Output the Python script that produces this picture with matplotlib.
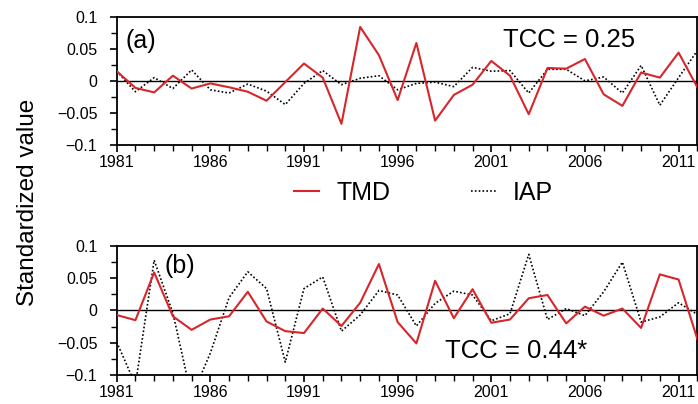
'''TMD vs IAP standardized anomalies, two panels'''

import matplotlib.pyplot as plt
from matplotlib.ticker import MultipleLocator

plt.rcParams['font.family'] = ['Liberation Sans', 'DejaVu Sans']

# Data

years = list(range(1981, 2013))

tmd_a = [0.015, -0.011, -0.018, 0.008, -0.012, -0.004, -0.010, -0.017, -0.031, -0.002,
         0.027, 0.005, -0.067, 0.084, 0.040, -0.030, 0.059, -0.062, -0.022, -0.006,
         0.031, 0.008, -0.052, 0.020, 0.019, 0.034, -0.021, -0.039, 0.013, 0.005,
         0.044, -0.010]
iap_a = [0.015, -0.017, 0.005, -0.012, 0.017, -0.014, -0.019, -0.005, -0.016, -0.037,
         -0.004, 0.016, -0.006, 0.004, 0.008, -0.014, -0.004, -0.002, -0.009, 0.021,
         0.015, 0.016, -0.019, 0.018, 0.018, 0.000, 0.006, -0.019, 0.024, -0.038,
         0.005, 0.047]

tmd_b = [-0.007, -0.015, 0.059, -0.009, -0.030, -0.014, -0.009, 0.029, -0.017, -0.032,
         -0.035, 0.003, -0.024, 0.012, 0.072, -0.018, -0.051, 0.046, -0.012, 0.033,
         -0.019, -0.014, 0.019, 0.024, -0.020, 0.006, -0.008, 0.003, -0.027, 0.056,
         0.048, -0.044]
iap_b = [-0.049, -0.115, 0.078, -0.004, -0.134, -0.066, 0.020, 0.060, 0.034, -0.080,
         0.034, 0.052, -0.032, -0.007, 0.031, 0.024, -0.024, 0.011, 0.030, 0.024,
         -0.016, -0.005, 0.087, -0.014, 0.003, -0.008, 0.029, 0.075, -0.018, -0.010,
         0.012, -0.006]

tcc_a = 'TCC = 0.25'
tcc_b = 'TCC = 0.44*'
red = '#d7262b'

# Figur

fig = plt.figure(figsize=(6.98, 4.04), dpi=100)
ax_a = fig.add_axes([0.1672, 0.6411, 0.8318, 0.3176])
ax_b = fig.add_axes([0.1672, 0.0718, 0.8318, 0.3193])

for ax, tmd, iap in [(ax_a, tmd_a, iap_a), (ax_b, tmd_b, iap_b)]:
  ax.axhline(0, color='black', lw=1.0, zorder=1)
  ax.plot(years, iap, color='black', ls=(0, (1, 1.3)), lw=1.2, label='IAP', zorder=2)
  ax.plot(years, tmd, color=red, lw=1.5, label='TMD', zorder=3)
  ax.set_xlim(1981, 2012)
  ax.set_ylim(-0.1, 0.1)
  ax.set_xticks(range(1981, 2012, 5))
  ax.xaxis.set_minor_locator(MultipleLocator(1))
  ax.set_yticks([-0.1, -0.05, 0, 0.05, 0.1])
  ax.set_yticklabels(['\u22120.1', '\u22120.05', '0', '0.05', '0.1'])
  ax.yaxis.set_minor_locator(MultipleLocator(0.025))
  ax.tick_params(which='major', direction='out', length=5, width=1.2, labelsize=11.5, pad=2)
  ax.tick_params(axis='y', which='major', pad=9)
  ax.tick_params(which='minor', direction='out', length=4, width=1.0)
  for s in ax.spines.values():
    s.set_linewidth(1.3)

ax_a.text(0.016, 0.81, '(a)', transform=ax_a.transAxes, fontsize=18, va='center')
ax_a.text(0.665, 0.82, tcc_a, transform=ax_a.transAxes, fontsize=18.5, va='center')
ax_b.text(0.083, 0.845, '(b)', transform=ax_b.transAxes, fontsize=18, va='center')
ax_b.text(0.565, 0.186, tcc_b, transform=ax_b.transAxes, fontsize=18.5, va='center')

# Legende

h_iap, h_tmd = ax_a.get_lines()[1:3]
fig.legend([h_tmd, h_iap], ['TMD', 'IAP'], loc='center', bbox_to_anchor=(0.607, 0.522),
           ncol=2, frameon=False, fontsize=18, handlelength=1.0, columnspacing=3.2,
           handletextpad=0.7)

fig.text(0.04, 0.5, 'Standardized value', rotation=90, fontsize=17.5, va='center', ha='center')

fig.savefig('out.png', dpi=100)
